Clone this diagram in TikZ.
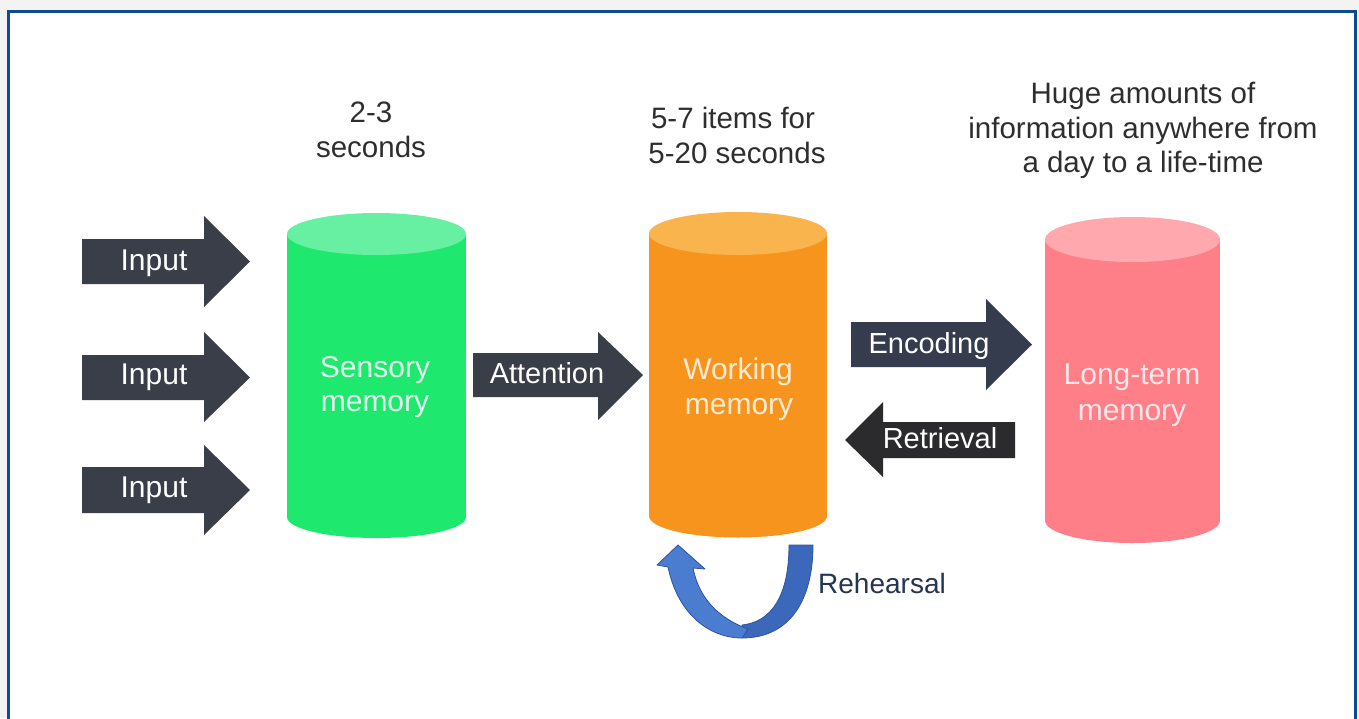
\documentclass[tikz,border=0pt]{standalone}
\usepackage{fontspec}
\setmainfont{Liberation Sans}
\definecolor{bggray}{HTML}{F3F3F3}
\definecolor{frameblue}{HTML}{0D4A90}
\definecolor{labelgray}{HTML}{2E2E2E}
\definecolor{arrowdark}{HTML}{3A3E48}
\definecolor{encdark}{HTML}{353C4E}
\definecolor{retdark}{HTML}{2B2B2D}
\definecolor{greenbody}{HTML}{1EE96E}
\definecolor{greentop}{HTML}{68F0A2}
\definecolor{orangebody}{HTML}{F7941E}
\definecolor{orangetop}{HTML}{FAB44E}
\definecolor{pinkbody}{HTML}{FF7F88}
\definecolor{pinktop}{HTML}{FFA9AF}
\definecolor{greentext}{HTML}{E4FCED}
\definecolor{orangetext}{HTML}{FEEBD2}
\definecolor{pinktext}{HTML}{FFE6E8}
\definecolor{rehblueL}{HTML}{4A7DD0}
\definecolor{rehblueR}{HTML}{3B68BA}
\definecolor{rehedge}{HTML}{2C54A0}
\definecolor{rehtext}{HTML}{263450}
\begin{document}
\begin{tikzpicture}[x=1pt,y=-1pt,
  toplabel/.style={font=\fontsize{29.5}{34}\selectfont, inner sep=0pt, anchor=base, text=labelgray},
  arrowlabel/.style={font=\fontsize{29}{34}\selectfont, inner sep=0pt, anchor=base, text=white},
  cyllabel/.style={font=\fontsize{30}{36}\selectfont, inner sep=0pt, anchor=base},
  blockarrow/.style={fill=arrowdark}]
\useasboundingbox (0,0) rectangle (1359,718);
\fill[bggray] (0,0) rectangle (1359,718);
\filldraw[fill=white, draw=frameblue, line width=3pt] (8,11) rectangle (1355,745);

% cylinders
\fill[greenbody] (287,234) rectangle (466,517);
\fill[greenbody] (376.5,517) ellipse [x radius=89.5pt, y radius=21pt];
\fill[greentop] (376.5,234) ellipse [x radius=89.5pt, y radius=21pt];

\fill[orangebody] (649,233.5) rectangle (827,516);
\fill[orangebody] (738,516) ellipse [x radius=89pt, y radius=21.5pt];
\fill[orangetop] (738,233.5) ellipse [x radius=89pt, y radius=21.5pt];

\fill[pinkbody] (1045,239.5) rectangle (1220,520.5);
\fill[pinkbody] (1132.5,520.5) ellipse [x radius=87.5pt, y radius=22.5pt];
\fill[pinktop] (1132.5,239.5) ellipse [x radius=87.5pt, y radius=22.5pt];

\node[cyllabel, text=greentext] (sens1) at (375,377) {Sensory};
\node[cyllabel, text=greentext] (sens2) at (375,411) {memory};
\node[cyllabel, text=orangetext] (work1) at (738,379) {Working};
\node[cyllabel, text=orangetext] (work2) at (739,414) {memory};
\node[cyllabel, text=pinktext] (long1) at (1132,384) {Long-term};
\node[cyllabel, text=pinktext] (long2) at (1132,420) {memory};

% top labels
\node[toplabel] (t1a) at (371,122) {2-3};
\node[toplabel] (t1b) at (371,157) {seconds};
\node[toplabel] (t2a) at (733,128) {5-7 items for};
\node[toplabel] (t2b) at (737,163) {5-20 seconds};
\node[toplabel] (t3a) at (1143,103) {Huge amounts of};
\node[toplabel] (t3b) at (1143,138) {information anywhere from};
\node[toplabel] (t3c) at (1143,172) {a day to a life-time};

% input arrows
\fill[blockarrow] (82,239) -- (204,239) -- (204,216) -- (250,261.5) -- (204,307) -- (204,284) -- (82,284) -- cycle;
\fill[blockarrow] (82,355) -- (204,355) -- (204,332) -- (250,377.5) -- (204,422) -- (204,400) -- (82,400) -- cycle;
\fill[blockarrow] (82,467) -- (204,467) -- (204,445) -- (250,490) -- (204,535) -- (204,513) -- (82,513) -- cycle;
\node[arrowlabel, font=\fontsize{30}{34}\selectfont] (in1) at (154,270) {Input};
\node[arrowlabel, font=\fontsize{30}{34}\selectfont] (in2) at (154,384) {Input};
\node[arrowlabel, font=\fontsize{30}{34}\selectfont] (in3) at (154,497) {Input};

% attention
\fill[blockarrow] (473,353) -- (598,353) -- (598,332) -- (643,375) -- (598,420) -- (598,397) -- (473,397) -- cycle;
\node[arrowlabel] (att) at (547,383) {Attention};

% encoding
\fill[fill=encdark] (851,322) -- (986,322) -- (986,299) -- (1032,344.5) -- (986,390) -- (986,367) -- (851,367) -- cycle;
\node[arrowlabel] (enc) at (929,353) {Encoding};

% retrieval
\fill[fill=retdark] (1015,422) -- (883,422) -- (883,402) -- (845,440) -- (883,477) -- (883,458) -- (1015,458) -- cycle;
\node[arrowlabel] (ret) at (940,448) {Retrieval};

% rehearsal
\filldraw[fill=rehblueR, draw=rehedge, line width=0.8pt, line join=round]
  (813,545) -- (789,545) .. controls (789,595) and (772,622) .. (742,625)
  -- (742,638) .. controls (790,638) and (813,600) .. (813,545) -- cycle;
\filldraw[fill=rehblueL, draw=rehedge, line width=0.8pt, line join=round]
  (693,568) -- (705,569) -- (678,545) -- (657,565) -- (668,567)
  .. controls (678,615) and (710,638) .. (742,638)
  -- (748,629) .. controls (718,618) and (699,598) .. (693,568) -- cycle;
\node[toplabel, font=\fontsize{28}{34}\selectfont, anchor=base west, text=rehtext] (reh) at (818,593) {Rehearsal};
\end{tikzpicture}
\end{document}
